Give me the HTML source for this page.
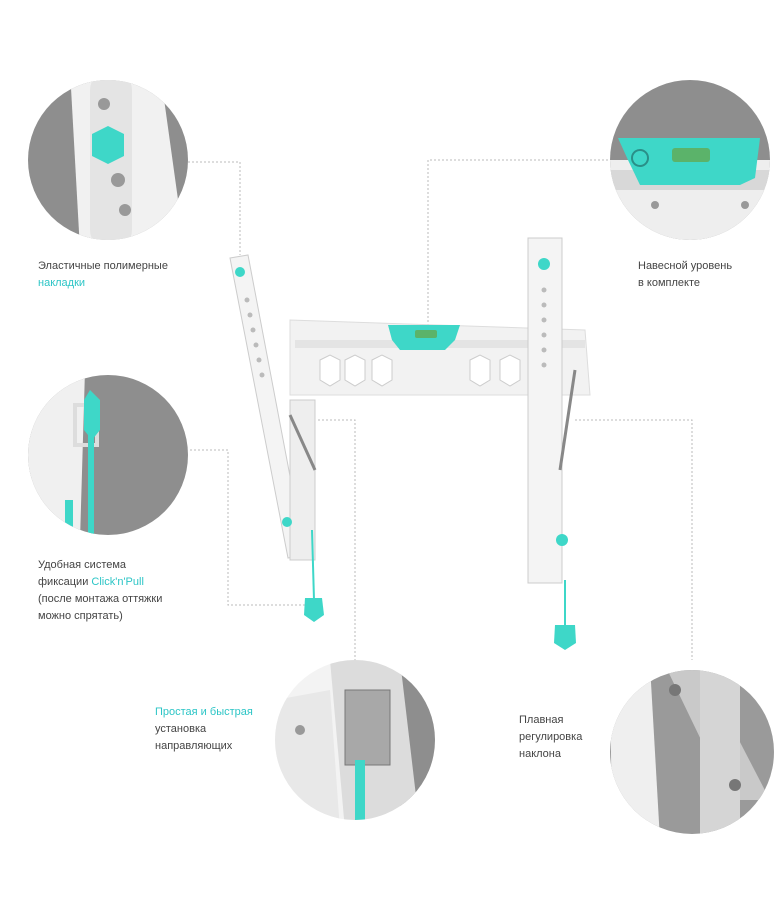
<!DOCTYPE html>
<html><head><meta charset="utf-8"><style>
html,body{margin:0;padding:0;background:#fff;}
body{width:776px;height:922px;position:relative;overflow:hidden;font-family:"Liberation Sans",sans-serif;}
.t{position:absolute;font-size:11px;line-height:17px;color:#444;}
.c{color:#2cc5c6;}
</style></head><body>
<svg width="776" height="922" style="position:absolute;left:0;top:0">
<defs>
<clipPath id="c1"><circle cx="108" cy="160" r="80"/></clipPath>
<clipPath id="c2"><circle cx="690" cy="160" r="80"/></clipPath>
<clipPath id="c3"><circle cx="108" cy="455" r="80"/></clipPath>
<clipPath id="c4"><circle cx="355" cy="740" r="80"/></clipPath>
<clipPath id="c5"><circle cx="692" cy="752" r="82"/></clipPath>
</defs>
<g fill="none" stroke="#bbb" stroke-width="1" stroke-dasharray="2,2">
<polyline points="188,162 240,162 240,255"/>
<polyline points="612,160 428,160 428,330"/>
<polyline points="190,450 228,450 228,605 305,605"/>
<polyline points="318,420 355,420 355,660"/>
<polyline points="575,420 692,420 692,660"/>
</g>
<!-- circle 1 -->
<g clip-path="url(#c1)">
<rect x="20" y="70" width="180" height="180" fill="#8e8e8e"/>
<polygon points="70,70 160,70 185,250 80,250" fill="#f1f1f1"/>
<rect x="90" y="70" width="42" height="180" rx="20" fill="#e4e4e4"/>
<circle cx="104" cy="104" r="6" fill="#999"/>
<circle cx="118" cy="180" r="7" fill="#999"/>
<circle cx="125" cy="210" r="6" fill="#999"/>
<polygon points="108,126 124,134 124,156 108,164 92,156 92,134" fill="#3ed7c8"/>
</g>
<!-- circle 2 -->
<g clip-path="url(#c2)">
<rect x="600" y="70" width="180" height="180" fill="#8e8e8e"/>
<rect x="600" y="160" width="180" height="90" fill="#eeeeee"/>
<rect x="600" y="170" width="180" height="20" fill="#d8d8d8"/>
<polygon points="618,138 760,138 755,178 740,185 640,185 628,160" fill="#3ed7c8"/>
<circle cx="640" cy="158" r="8" fill="none" stroke="#2a8f88" stroke-width="2"/>
<rect x="672" y="148" width="38" height="14" rx="3" fill="#5bb36a"/>
<circle cx="655" cy="205" r="4" fill="#999"/><circle cx="745" cy="205" r="4" fill="#999"/>
</g>
<!-- circle 3 -->
<g clip-path="url(#c3)">
<rect x="20" y="370" width="180" height="180" fill="#8e8e8e"/>
<polygon points="20,370 85,370 80,540 20,540" fill="#f0f0f0"/>
<rect x="75" y="405" width="22" height="40" fill="none" stroke="#ddd" stroke-width="4"/>
<polygon points="90,390 100,400 100,430 92,440 84,430 84,400" fill="#3ed7c8"/>
<rect x="88" y="430" width="6" height="120" fill="#3ed7c8"/>
<rect x="65" y="500" width="8" height="40" fill="#3ed7c8"/>
</g>
<!-- circle 4 -->
<g clip-path="url(#c4)">
<rect x="270" y="655" width="170" height="170" fill="#f3f3f3"/>
<rect x="400" y="655" width="40" height="170" fill="#8e8e8e"/>
<polygon points="275,700 330,690 340,830 275,830" fill="#e8e8e8"/>
<polygon points="330,660 400,660 420,830 345,830" fill="#dcdcdc"/>
<rect x="345" y="690" width="45" height="75" fill="#a8a8a8" stroke="#777"/>
<rect x="355" y="760" width="10" height="70" fill="#3ed7c8"/>
<circle cx="300" cy="730" r="5" fill="#999"/>
</g>
<!-- circle 5 -->
<g clip-path="url(#c5)">
<rect x="605" y="665" width="175" height="175" fill="#9a9a9a"/>
<polygon points="610,665 650,665 660,840 612,840" fill="#efefef"/>
<polygon points="665,665 700,665 770,800 730,800" fill="#c9c9c9"/>
<rect x="700" y="665" width="40" height="175" fill="#d5d5d5"/>
<circle cx="675" cy="690" r="6" fill="#777"/>
<circle cx="735" cy="785" r="6" fill="#777"/>
</g>
<!-- main bracket -->
<g>
<polygon points="290,320 585,330 590,395 290,395" fill="#f2f2f2" stroke="#ddd"/>
<rect x="295" y="340" width="290" height="8" fill="#e4e4e4"/>
<g fill="#fff" stroke="#ccc">
<polygon points="320,360 330,355 340,360 340,380 330,386 320,380"/>
<polygon points="345,360 355,355 365,360 365,380 355,386 345,380"/>
<polygon points="372,360 382,355 392,360 392,380 382,386 372,380"/>
<polygon points="470,360 480,355 490,360 490,380 480,386 470,380"/>
<polygon points="500,360 510,355 520,360 520,380 510,386 500,380"/>
</g>
<polygon points="230,258 248,255 305,555 288,558" fill="#f4f4f4" stroke="#ccc"/>
<rect x="290" y="400" width="25" height="160" fill="#eee" stroke="#ccc"/>
<line x1="290" y1="415" x2="315" y2="470" stroke="#888" stroke-width="3"/>
<circle cx="240" cy="272" r="5" fill="#3ed7c8"/>
<circle cx="287" cy="522" r="5" fill="#3ed7c8"/>
<line x1="312" y1="530" x2="314" y2="600" stroke="#3ed7c8" stroke-width="2"/>
<polygon points="305,598 322,598 324,615 314,622 304,615" fill="#3ed7c8"/>
<rect x="528" y="238" width="34" height="345" fill="#f4f4f4" stroke="#ccc"/>
<line x1="575" y1="370" x2="560" y2="470" stroke="#888" stroke-width="3"/>
<circle cx="544" cy="264" r="6" fill="#3ed7c8"/>
<circle cx="562" cy="540" r="6" fill="#3ed7c8"/>
<line x1="565" y1="580" x2="565" y2="625" stroke="#3ed7c8" stroke-width="2"/>
<polygon points="555,625 575,625 576,643 565,650 554,643" fill="#3ed7c8"/>
<polygon points="388,325 460,325 455,340 445,350 400,350 392,340" fill="#3ed7c8"/>
<rect x="415" y="330" width="22" height="8" rx="2" fill="#5bb36a"/>
<g fill="#bbb"><circle cx="544" cy="290" r="2.5"/><circle cx="544" cy="305" r="2.5"/><circle cx="544" cy="320" r="2.5"/><circle cx="544" cy="335" r="2.5"/><circle cx="544" cy="350" r="2.5"/><circle cx="544" cy="365" r="2.5"/><circle cx="247" cy="300" r="2.5"/><circle cx="250" cy="315" r="2.5"/><circle cx="253" cy="330" r="2.5"/><circle cx="256" cy="345" r="2.5"/><circle cx="259" cy="360" r="2.5"/><circle cx="262" cy="375" r="2.5"/></g>
</g>
</svg>
<div class="t" style="left:38px;top:258px">Эластичные полимерные<br><span class="c">накладки</span></div>
<div class="t" style="left:638px;top:258px">Навесной уровень<br>в комплекте</div>
<div class="t" style="left:38px;top:557px">Удобная система<br>фиксации <span class="c">Click'n'Pull</span><br>(после монтажа оттяжки<br>можно спрятать)</div>
<div class="t" style="left:155px;top:704px"><span class="c">Простая и быстрая</span><br>установка<br>направляющих</div>
<div class="t" style="left:519px;top:712px">Плавная<br>регулировка<br>наклона</div>
</body></html>
